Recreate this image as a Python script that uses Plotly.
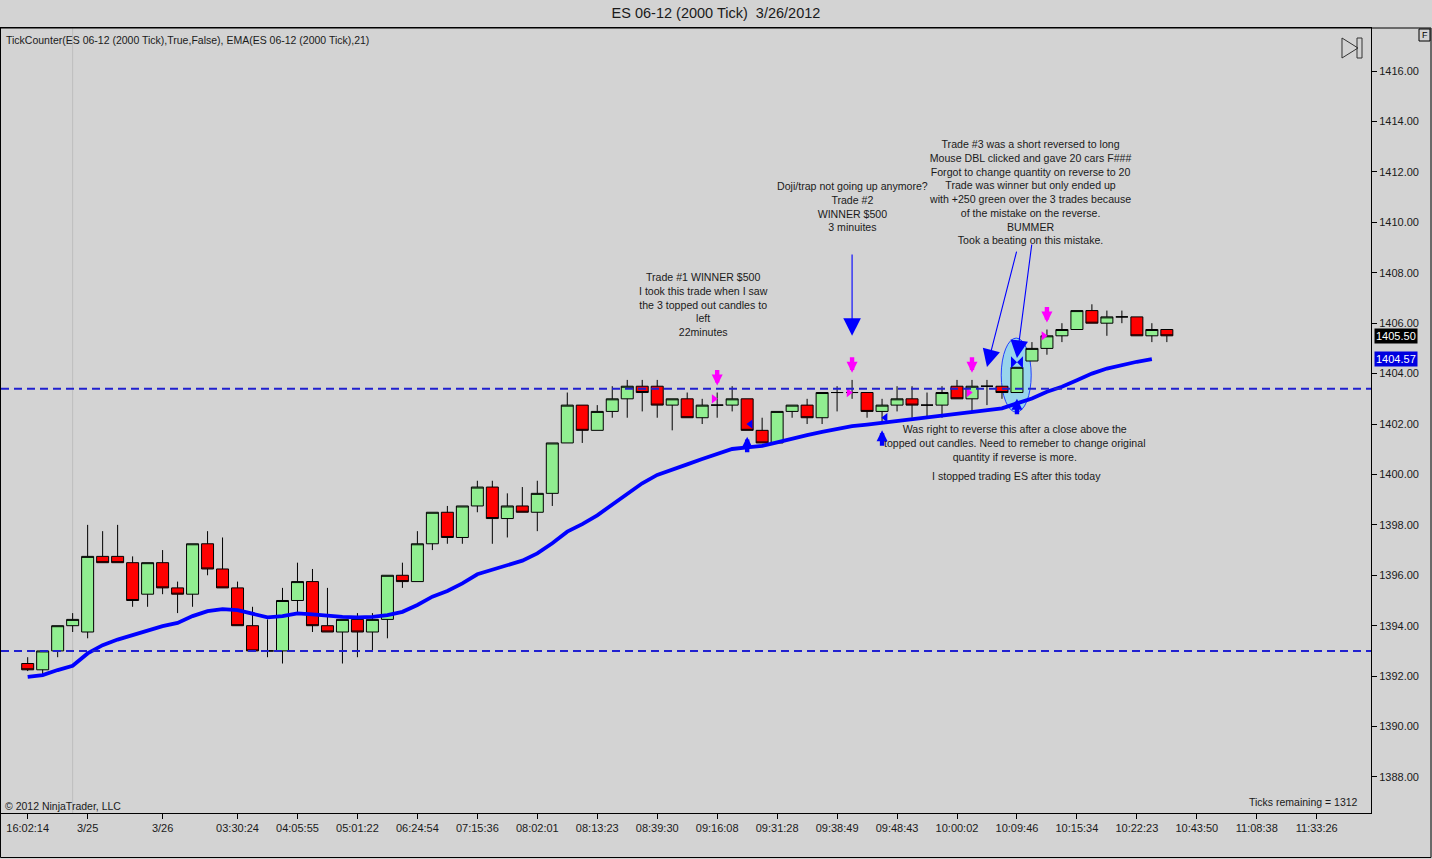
import plotly.graph_objects as go

# ES 06-12 (2000 Tick) bars
opens = [1392.5, 1392.25, 1393.0, 1394.0, 1393.75, 1396.75, 1396.75, 1396.5, 1395.25, 1396.5,
         1395.5, 1395.25, 1397.25, 1396.25, 1395.5, 1394.0, 1393.0, 1393.0, 1395.0, 1395.75,
         1394.0, 1393.75, 1394.25, 1393.75, 1394.25, 1396.0, 1395.75, 1397.25, 1398.5, 1397.5,
         1398.75, 1399.5, 1398.25, 1398.75, 1398.5, 1399.25, 1401.25, 1402.75, 1401.75, 1402.5,
         1403.0, 1403.5, 1403.5, 1402.75, 1403.0, 1402.25, 1402.75, 1402.75, 1403.0, 1401.75,
         1401.25, 1402.5, 1402.75, 1402.25, 1403.25, 1403.25, 1403.25, 1402.5, 1402.75, 1403.0,
         1402.75, 1402.75, 1403.5, 1403.0, 1403.5, 1403.5, 1403.25, 1404.5, 1405.0, 1405.5,
         1405.75, 1406.5, 1406.0, 1406.25, 1406.25, 1405.5, 1405.75]
highs = [1392.75, 1393.0, 1394.0, 1394.5, 1398.0, 1397.75, 1398.0, 1396.75, 1396.5, 1397.0,
         1395.75, 1397.25, 1397.75, 1397.5, 1395.75, 1394.75, 1394.25, 1395.5, 1396.5, 1396.25,
         1395.5, 1394.25, 1394.5, 1394.5, 1396.0, 1396.5, 1397.75, 1398.5, 1398.75, 1398.75,
         1399.75, 1399.75, 1399.25, 1399.5, 1399.75, 1401.25, 1403.25, 1402.75, 1402.75, 1403.5,
         1403.75, 1403.75, 1403.75, 1403.0, 1403.25, 1403.0, 1403.25, 1403.5, 1403.0, 1402.25,
         1402.5, 1402.75, 1403.0, 1403.25, 1403.5, 1403.75, 1403.25, 1403.0, 1403.5, 1403.5,
         1403.25, 1403.5, 1403.75, 1403.75, 1403.75, 1403.5, 1404.25, 1405.25, 1405.75, 1406.0,
         1406.5, 1406.75, 1406.5, 1406.5, 1406.25, 1406.0, 1405.75]
lows = [1392.2, 1392.0, 1392.75, 1393.75, 1393.5, 1396.5, 1396.5, 1394.75, 1394.75, 1395.25,
        1394.5, 1394.75, 1396.0, 1395.5, 1394.0, 1393.0, 1392.75, 1392.5, 1394.5, 1393.75,
        1393.75, 1392.5, 1392.75, 1393.0, 1393.5, 1395.5, 1395.75, 1397.0, 1397.25, 1397.25,
        1398.5, 1397.25, 1397.5, 1398.5, 1397.75, 1398.75, 1401.25, 1401.25, 1401.75, 1402.25,
        1402.25, 1402.5, 1402.25, 1401.75, 1402.25, 1402.0, 1402.25, 1402.5, 1401.75, 1401.25,
        1401.25, 1402.25, 1402.0, 1402.0, 1402.5, 1403.0, 1402.25, 1402.0, 1402.5, 1402.25,
        1402.25, 1402.25, 1403.0, 1402.5, 1402.75, 1403.0, 1403.25, 1404.5, 1404.75, 1405.25,
        1405.75, 1406.0, 1405.5, 1406.0, 1405.5, 1405.25, 1405.25]
closes = [1392.25, 1393.0, 1394.0, 1394.25, 1396.75, 1396.5, 1396.5, 1395.0, 1396.5, 1395.5,
          1395.25, 1397.25, 1396.25, 1395.5, 1394.0, 1393.0, 1393.0, 1395.0, 1395.75, 1394.0,
          1393.75, 1394.25, 1393.75, 1394.25, 1396.0, 1395.75, 1397.25, 1398.5, 1397.5, 1398.75,
          1399.5, 1398.25, 1398.75, 1398.5, 1399.25, 1401.25, 1402.75, 1401.75, 1402.5, 1403.0,
          1403.5, 1403.25, 1402.75, 1403.0, 1402.25, 1402.75, 1402.75, 1403.0, 1401.75, 1401.25,
          1402.5, 1402.75, 1402.25, 1403.25, 1403.25, 1403.25, 1402.5, 1402.75, 1403.0, 1402.75,
          1402.75, 1403.25, 1403.0, 1403.5, 1403.5, 1403.25, 1404.25, 1405.0, 1405.5, 1405.75,
          1406.5, 1406.0, 1406.25, 1406.25, 1405.5, 1405.75, 1405.5]

# EMA(21) - one value short, last bar still open
ema = [1391.97, 1392.04, 1392.24, 1392.41, 1392.90, 1393.23, 1393.45, 1393.63, 1393.82, 1393.98,
       1394.11, 1394.38, 1394.58, 1394.66, 1394.62, 1394.49, 1394.33, 1394.38, 1394.49, 1394.45,
       1394.39, 1394.35, 1394.33, 1394.35, 1394.42, 1394.55, 1394.82, 1395.15, 1395.38, 1395.68,
       1396.04, 1396.23, 1396.41, 1396.58, 1396.87, 1397.27, 1397.73, 1398.03, 1398.38, 1398.79,
       1399.22, 1399.65, 1399.98, 1400.21, 1400.40, 1400.61, 1400.81, 1401.01, 1401.07, 1401.13,
       1401.27, 1401.43, 1401.56, 1401.69, 1401.82, 1401.92, 1401.98, 1402.05, 1402.13, 1402.21,
       1402.29, 1402.35, 1402.42, 1402.48, 1402.55, 1402.62, 1402.82, 1403.01, 1403.28, 1403.48,
       1403.74, 1404.00, 1404.20, 1404.34, 1404.47, 1404.57]

tick_idx = [0, 4, 9, 14, 18, 22, 26, 30, 34, 38, 42, 46, 50, 54, 58, 62, 66, 70, 74, 78, 82, 86]
tick_text = ["16:02:14", "3/25", "3/26", "03:30:24", "04:05:55", "05:01:22", "06:24:54",
             "07:15:36", "08:02:01", "08:13:23", "08:39:30", "09:16:08", "09:31:28", "09:38:49",
             "09:48:43", "10:00:02", "10:09:46", "10:15:34", "10:22:23", "10:43:50", "11:08:38",
             "11:33:26"]
price_ticks = list(range(1388, 1417, 2))

# drawn objects
hlines = [1403.4, 1393.0]
session_break = 3
short_sig = [46, 55, 63, 68]            # magenta down arrows
short_entry = [1403.0, 1403.25, 1403.25, 1405.5]
cover_sig = [48, 57, 66]                # blue up arrows
cover_exit = [1402.0, 1402.25]
reverse_bar = 66
reverse_price = 1404.45

FONT = "Liberation Sans, Arial, sans-serif"
BG = "#D3D3D3"

# plot area in pixels: x 1..1371, y 28..813
def px(x):
    return (x - 1) / 1370.0

def py(y):
    return (813 - y) / 785.0

xs = list(range(len(opens)))

fig = go.Figure()
fig.add_trace(go.Candlestick(
    x=xs, open=opens, high=highs, low=lows, close=closes,
    increasing=dict(fillcolor="#90EE90", line=dict(color="black", width=1)),
    decreasing=dict(fillcolor="#FF0000", line=dict(color="black", width=1)),
    whiskerwidth=0, hoverinfo="skip", showlegend=False))

fig.add_trace(go.Scatter(
    x=xs[:len(ema)], y=ema, mode="lines",
    line=dict(color="#0000FF", width=3.8), hoverinfo="skip", showlegend=False))

fig.add_trace(go.Scatter(
    x=[i - 0.22 for i in short_sig], y=short_entry, mode="markers",
    marker=dict(symbol="triangle-right", size=8, color="#FF00FF"),
    hoverinfo="skip", showlegend=False))
fig.add_trace(go.Scatter(
    x=[i + 0.22 for i in cover_sig[:2]], y=cover_exit, mode="markers",
    marker=dict(symbol="triangle-left", size=8, color="#0000FF"),
    hoverinfo="skip", showlegend=False))
fig.add_trace(go.Scatter(
    x=[reverse_bar], y=[reverse_price], mode="markers",
    marker=dict(symbol="bowtie", size=12, color="#0000FF"),
    hoverinfo="skip", showlegend=False))

shapes = []
for lvl in hlines:
    shapes.append(dict(type="line", xref="paper", x0=0, x1=1, yref="y", y0=lvl, y1=lvl,
                       line=dict(color="#2020D0", width=2, dash="8px,5px"), layer="above"))
shapes.append(dict(type="line", xref="x", x0=session_break, x1=session_break, yref="paper",
                   y0=0, y1=1, line=dict(color="#BDBDBD", width=1), layer="below"))
# ellipse around the reversal bar
shapes.append(dict(type="circle", xref="x", yref="y", x0=reverse_bar - 1.05, x1=reverse_bar + 0.95,
                   y0=1402.47, y1=1405.41, fillcolor="#98D4EC",
                   line=dict(color="#2040FF", width=1), layer="below"))
# outer frame
shapes.append(dict(type="path", xref="paper", yref="paper",
                   path="M %f,%f L %f,%f L %f,%f L %f,%f Z" % (px(0.5), py(28), px(1431), py(28),
                                                            px(1431), py(857.5), px(0.5), py(857.5)),
                   line=dict(color="black", width=1)))
# "go to end" icon
shapes.append(dict(type="path", xref="paper", yref="paper",
                   path="M %f,%f L %f,%f L %f,%f Z" % (px(1342), py(38), px(1342), py(58), px(1358), py(48)),
                   line=dict(color="#333333", width=1)))
shapes.append(dict(type="rect", xref="paper", yref="paper", x0=px(1357), x1=px(1362),
                   y0=py(58), y1=py(38), line=dict(color="#333333", width=1)))
# "F" box in the corner
shapes.append(dict(type="rect", xref="paper", yref="paper", x0=px(1419), x1=px(1430),
                   y0=py(41), y1=py(29), line=dict(color="black", width=1)))

ann = []
txt = dict(family=FONT, size=10.6, color="#1a1a1a")
notes = [
    (45.1, 1406.76, "Trade #1 WINNER $500<br>I took this trade when I saw<br>the 3 topped out candles to<br>left<br>22minutes"),
    (55.0, 1410.64, "Doji/trap not going up anymore?<br>Trade #2<br>WINNER $500<br>3 minuites"),
    (66.9, 1411.2, "Trade #3 was a short reversed to long<br>Mouse DBL clicked and gave 20 cars F###"
                   "<br>Forgot to change quantity on reverse to 20<br>Trade was winner but only ended up"
                   "<br>with +250 green over the 3 trades because<br>of the mistake on the reverse."
                   "<br>BUMMER<br>Took a beating on this mistake."),
    (65.9, 1401.24, "Was right to reverse this after a close above the<br>topped out candles. Need to remeber"
                    " to change original<br>quantity if reverse is more."),
    (66.0, 1399.93, "I stopped trading ES after this today"),
]
for nx, ny, t in notes:
    ann.append(dict(x=nx, y=ny, xref="x", yref="y", text=t, showarrow=False, align="center",
                    xanchor="center", yanchor="middle", font=txt))

# long drawn arrows
for (tx, ty, hx, hy) in [(55, 1408.78, 55, 1405.5), (66.0, 1408.9, 64.0, 1404.26),
                         (67.0, 1409.18, 66.0, 1404.62)]:
    ann.append(dict(x=hx, y=hy, ax=tx, ay=ty, xref="x", yref="y", axref="x", ayref="y",
                    text="", showarrow=True, arrowhead=2, arrowsize=3.2, arrowwidth=1.1,
                    arrowcolor="#0000FF", standoff=0))

# signal arrows
for i in short_sig:
    ann.append(dict(x=i, y=highs[i] + 0.28, xref="x", yref="y", ax=0, ay=-17, text="",
                    showarrow=True, arrowhead=2, arrowsize=0.5, arrowwidth=4.4,
                    arrowcolor="#FF00FF", standoff=0))
for i in cover_sig:
    ann.append(dict(x=i, y=lows[i] - 0.25, xref="x", yref="y", ax=0, ay=17, text="",
                    showarrow=True, arrowhead=2, arrowsize=0.5, arrowwidth=4.4,
                    arrowcolor="#0000FF", standoff=0))

small = dict(family=FONT, size=10.5, color="#1a1a1a")
ann.append(dict(xref="paper", yref="paper", x=px(4), y=py(40), xanchor="left", yanchor="middle",
                text="TickCounter(ES 06-12 (2000 Tick),True,False), EMA(ES 06-12 (2000 Tick),21)",
                showarrow=False, font=small))
ann.append(dict(xref="paper", yref="paper", x=px(3), y=py(806), xanchor="left", yanchor="middle",
                text="© 2012 NinjaTrader, LLC", showarrow=False, font=small))
ann.append(dict(xref="paper", yref="paper", x=px(1360), y=py(802), xanchor="right", yanchor="middle",
                text="Ticks remaining = 1312", showarrow=False, font=small))
ann.append(dict(xref="paper", yref="paper", x=px(1424.5), y=py(35), xanchor="center", yanchor="middle",
                text="F", showarrow=False, font=dict(family=FONT, size=9, color="black")))
# price markers on the axis
ann.append(dict(xref="paper", yref="y", x=px(1374), y=closes[-1], xanchor="left", yanchor="middle",
                text="1405.50", showarrow=False, bgcolor="black", borderpad=1,
                font=dict(family=FONT, size=11, color="white")))
ann.append(dict(xref="paper", yref="y", x=px(1374), y=ema[-1], xanchor="left", yanchor="middle",
                text="%.2f" % ema[-1], showarrow=False, bgcolor="#0000E0", borderpad=1,
                font=dict(family=FONT, size=11, color="white")))

fig.update_layout(
    width=1432, height=859,
    margin=dict(l=1, r=61, t=28, b=46, pad=0),
    paper_bgcolor=BG, plot_bgcolor=BG,
    title=dict(text="ES 06-12 (2000 Tick)  3/26/2012", x=0.5, xref="container", xanchor="center",
               y=1 - 13 / 859.0, yref="container", yanchor="middle",
               font=dict(family=FONT, size=14.5, color="#1a1a1a")),
    boxgap=0.2, boxgroupgap=0,
    shapes=shapes, annotations=ann,
    xaxis=dict(range=[-1.78, 89.62], tickvals=tick_idx, ticktext=tick_text, ticks="outside",
               ticklen=5, tickcolor="black", showline=True, linecolor="black", linewidth=1,
               mirror=True, showgrid=False, zeroline=False, rangeslider=dict(visible=False),
               tickfont=dict(family=FONT, size=11, color="#1a1a1a")),
    yaxis=dict(side="right", range=[1386.57, 1417.71], tickvals=price_ticks, tickformat=".2f",
               ticks="outside", ticklen=5, tickcolor="black", showline=True, linecolor="black",
               linewidth=1, mirror=True, showgrid=False, zeroline=False,
               tickfont=dict(family=FONT, size=11, color="#1a1a1a")),
)

# page has a default 8px body margin; drop it so the chart fills the window
fig.write_html("out.html", config={"displayModeBar": False},
               post_script="document.body.style.margin='0px';"
                           "document.body.style.overflow='hidden';")
